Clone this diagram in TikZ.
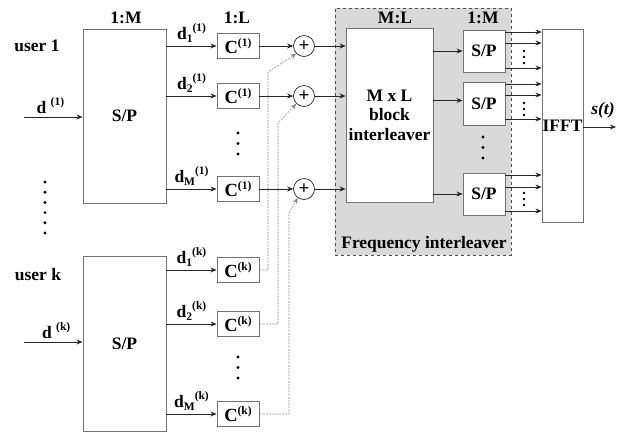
\documentclass[tikz,border=0pt]{standalone}
\usepackage{fontspec}
\setmainfont{Liberation Serif}
\usetikzlibrary{arrows.meta,calc}
\newcommand{\dlab}[2]{d\raisebox{-0.45ex}{\fontsize{11.5}{12}\selectfont #1}\raisebox{0.95ex}{\fontsize{11.5}{12}\selectfont (#2)}}
\newcommand{\clab}[1]{{\fontsize{18.5}{20}\selectfont C}\raisebox{0.8ex}{\fontsize{11.5}{12}\selectfont (#1)}}
\begin{document}
\begin{tikzpicture}[x=1pt,y=-1pt,
  font=\fontsize{17.5}{19.5}\selectfont\bfseries,
  box/.style={draw=black!55, line width=0.9pt, fill=white, inner sep=0pt},
  arr/.style={draw=black!85, line width=0.7pt, -{Stealth[length=6pt,width=5pt]}},
  darr/.style={draw=black!45, line width=0.6pt, dashed, dash pattern=on 2pt off 1.2pt, -{Stealth[length=6pt,width=5pt]}},
  plus/.style={circle, draw=black!85, line width=0.7pt, minimum size=21pt, inner sep=0pt, fill=white, font=\fontsize{19}{20}\selectfont\bfseries},
  lbl/.style={inner sep=0pt},
  dot/.style={circle, fill=black, inner sep=0pt, minimum size=3.2pt},
  sdot/.style={circle, fill=black, inner sep=0pt, minimum size=2.8pt}]
\useasboundingbox (0,0) rectangle (619,432);

% frequency interleaver background
\node[draw=black!70, fill=black!15, dashed, line width=0.6pt, minimum width=176pt, minimum height=247pt, inner sep=0pt] (fi) at (423,131.5) {};
\node[lbl] (filab) at (424,244) {Frequency interleaver};

% S/P user boxes
\node[box, minimum width=83pt, minimum height=174pt] (sp1) at (124.5,116) {S/P};
\node[box, minimum width=83pt, minimum height=175pt] (spk) at (124.5,343.5) {S/P};

% labels
\node[lbl] (l1M) at (126,18) {1:M};
\node[lbl] (l1L) at (237,18) {1:L};
\node[lbl] (lML) at (395,18) {M:L};
\node[lbl] (l1M2) at (483,18) {1:M};
\node[lbl] (u1) at (37,46) {user 1};
\node[lbl] (uk) at (38,275) {user k};

% inputs
\coordinate (in1) at (24,117);
\coordinate (ink) at (24,342);
\draw[arr] (in1) -- (in1 -| sp1.west) node[pos=0.45, above=3pt, lbl] {d \raisebox{0.95ex}{\fontsize{11.5}{12}\selectfont (1)}};
\draw[arr] (ink) -- (ink -| spk.west) node[pos=0.55, above=3pt, lbl] {d \raisebox{0.95ex}{\fontsize{11.5}{12}\selectfont (k)}};

% C boxes
\foreach \n/\y/\s in {c11/46/1, c12/96/1, c1M/189/1, ck1/270/k, ck2/324/k, ckM/414/k}{
  \node[box, minimum width=42pt, minimum height=25pt] (\n) at (238,\y) {\clab{\s}};
}
\draw[arr] (sp1.east |- c11.west) -- (c11.west) node[midway, above=3pt, lbl] {\dlab{1}{1}};
\draw[arr] (sp1.east |- c12.west) -- (c12.west) node[midway, above=3pt, lbl] {\dlab{2}{1}};
\draw[arr] (sp1.east |- c1M.west) -- (c1M.west) node[midway, above=3pt, lbl] {\dlab{M}{1}};
\draw[arr] (spk.east |- ck1.west) -- (ck1.west) node[midway, above=3pt, lbl] {\dlab{1}{k}};
\draw[arr] (spk.east |- ck2.west) -- (ck2.west) node[midway, above=3pt, lbl] {\dlab{2}{k}};
\draw[arr] (spk.east |- ckM.west) -- (ckM.west) node[midway, above=3pt, lbl] {\dlab{M}{k}};

% vertical dots
\foreach \y in {133,143.5,154} \node[dot] at (238,\y) {};
\foreach \y in {357,367.5,378} \node[dot] at (238,\y) {};
\foreach \y in {182,192.2,202.4,212.6,222.8,233} \node[dot] at (45,\y) {};

% adders
\node[plus] (p1) at (304,46) {+};
\node[plus] (p2) at (304,96) {+};
\node[plus] (p3) at (304,189) {+};
\draw[arr] (c11) -- (p1);
\draw[arr] (c12) -- (p2);
\draw[arr] (c1M) -- (p3);

% dashed links from user k
\coordinate (k1a) at (268,270); \coordinate (k1b) at (268,72);
\coordinate (k2a) at (278,324); \coordinate (k2b) at (278,123);
\coordinate (k3a) at (289,414); \coordinate (k3b) at (289,213);
\draw[darr] (ck1.east) -- (k1a) -- (k1b) -- (p1.225);
\draw[darr] (ck2.east) -- (k2a) -- (k2b) -- (p2.225);
\draw[darr] (ckM.east) -- (k3a) -- (k3b) -- (p3.235);

% block interleaver
\node[box, minimum width=87pt, minimum height=174pt, align=center] (blk) at (389.5,115) {M x L\\block\\interleaver};
\draw[arr] (p1) -- (p1 -| blk.west);
\draw[arr] (p2) -- (p2 -| blk.west);
\draw[arr] (p3) -- (p3 -| blk.west);

% S/P small
\node[box, minimum width=42pt, minimum height=42pt] (s1) at (484,51) {S/P};
\node[box, minimum width=42pt, minimum height=43pt] (s2) at (484,103.5) {S/P};
\node[box, minimum width=42pt, minimum height=42pt] (s3) at (484,194) {S/P};
\draw[arr] (blk.east |- s1.west) -- (s1.west);
\draw[arr] ([yshift=3pt]blk.east |- s2.west) -- ([yshift=3pt]s2.west);
\draw[arr] (blk.east |- s3.west) -- (s3.west);
\foreach \y in {137,147.5,158} \node[dot] at (483,\y) {};

% IFFT
\node[box, minimum width=41pt, minimum height=193pt] (ifft) at (562.5,125.5) {IFFT};
\foreach \s/\a/\b/\c in {s1/32/43/68, s2/84/95/119, s3/175/187/211}{
  \coordinate (t\s a) at (505,\a); \coordinate (t\s b) at (505,\b); \coordinate (t\s c) at (505,\c);
  \draw[arr] (t\s a) -- (t\s a -| ifft.west);
  \draw[arr] (t\s b) -- (t\s b -| ifft.west);
  \draw[arr] (t\s c) -- (t\s c -| ifft.west);
}
\foreach \y in {51,57,63, 103,109,115, 193,199,205} \node[sdot] at (524,\y) {};

% output
\coordinate (out) at (616,127);
\draw[arr] (ifft.east |- out) -- (out);
\node[lbl, font=\fontsize{17.5}{19.5}\selectfont\bfseries\itshape] (st) at (603,110) {s(t)};
\end{tikzpicture}
\end{document}
